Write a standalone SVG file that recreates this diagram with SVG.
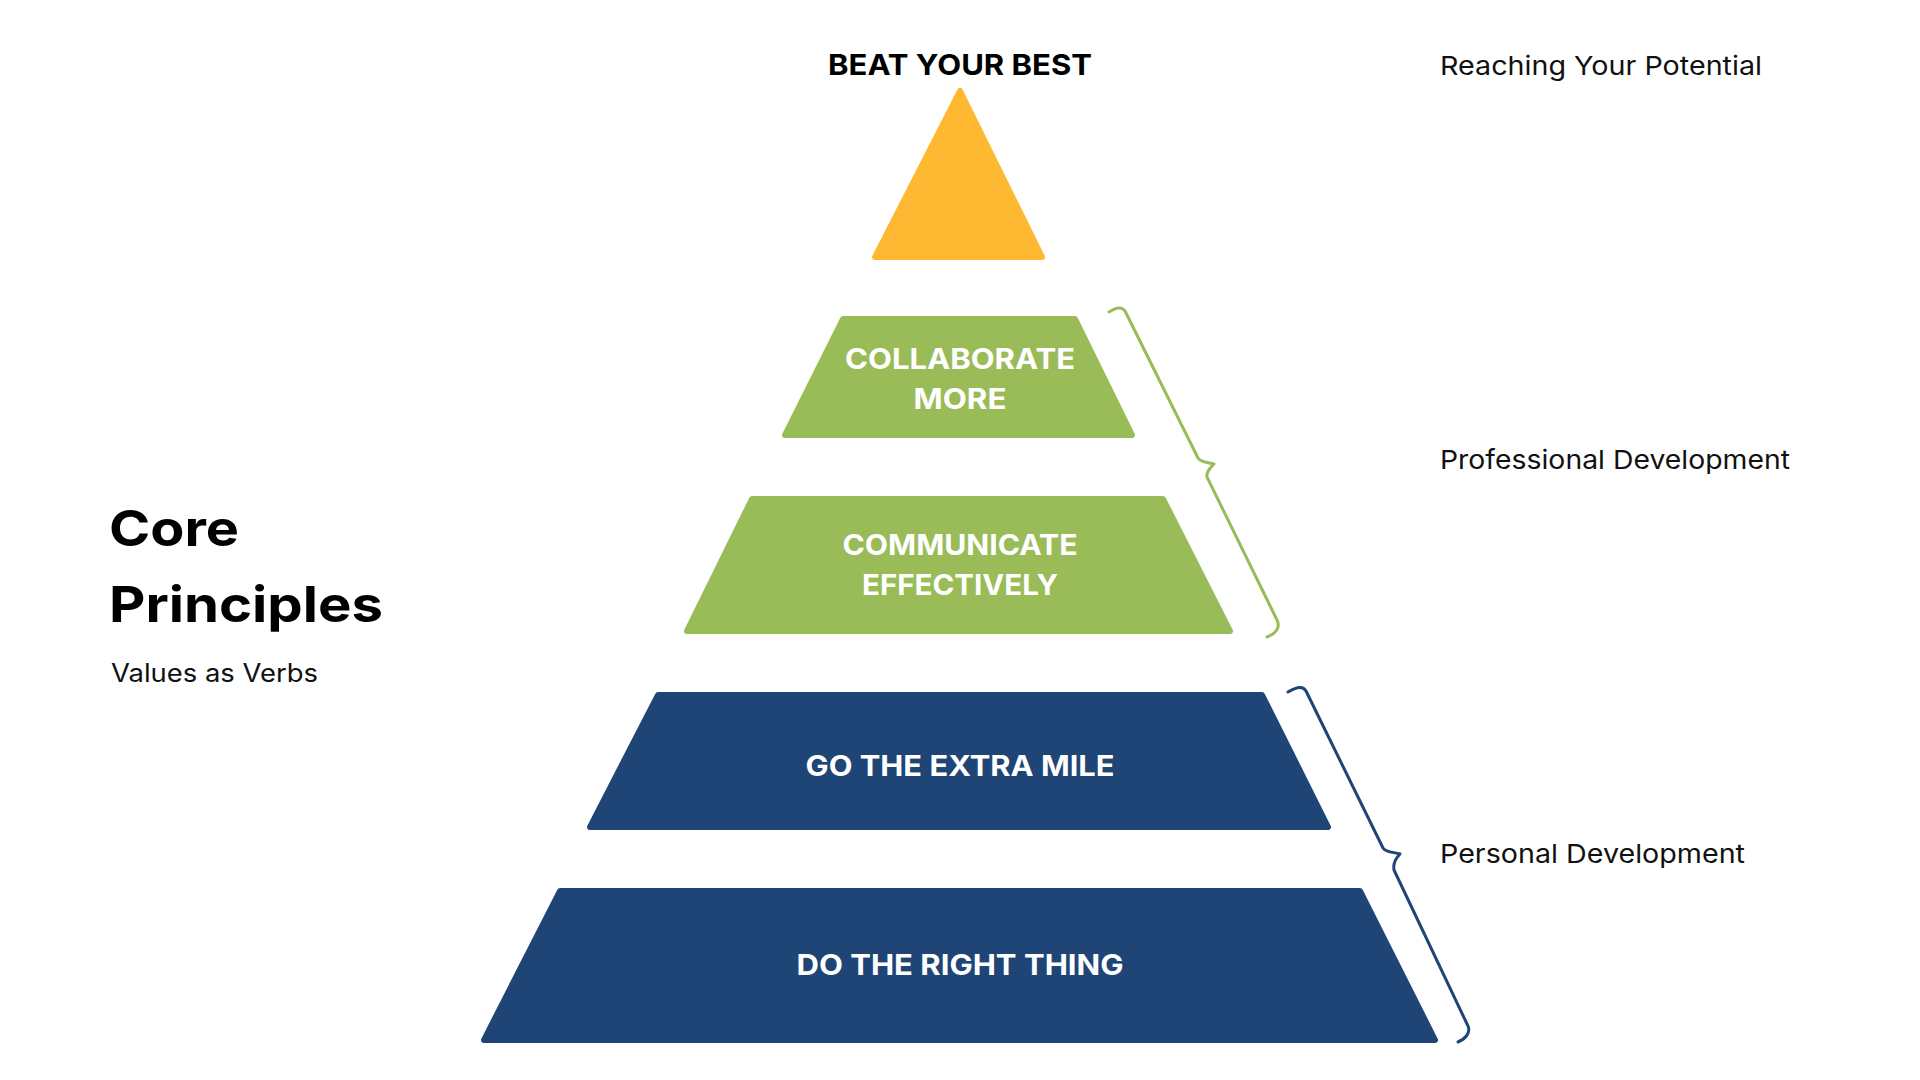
<svg xmlns="http://www.w3.org/2000/svg" width="1920" height="1080" viewBox="0 0 1920 1080">
<style>
.shape{stroke-width:6;stroke-linejoin:round}
.yellow{fill:#FEB832;stroke:#FEB832}
.green{fill:#99BC59;stroke:#99BC59}
.blue{fill:#1E4575;stroke:#1E4575}
.lbl{font-family:Inter,"Open Sans",sans-serif;font-weight:700;font-size:29px;fill:#FFFFFF;text-anchor:middle}
.side{font-family:Inter,"Open Sans",sans-serif;font-weight:400;font-size:26px;fill:#111111}
.brace{fill:none;stroke-width:3;stroke-linecap:round;stroke-linejoin:round}
</style>
<rect width="1920" height="1080" fill="#FFFFFF"/>
<g id="title">
<text x="109" y="546" font-family="Inter,'Open Sans',sans-serif" font-weight="700" font-size="50" fill="#000" textLength="130" lengthAdjust="spacingAndGlyphs">Core</text>
<text x="109" y="622" font-family="Inter,'Open Sans',sans-serif" font-weight="700" font-size="50" fill="#000" textLength="274" lengthAdjust="spacingAndGlyphs">Principles</text>
<text x="111" y="682" font-family="Inter,'Open Sans',sans-serif" font-weight="400" font-size="25" fill="#111" textLength="207" lengthAdjust="spacingAndGlyphs">Values as Verbs</text>
</g>
<g id="node-beat">
<polygon class="shape yellow" points="960,91 1042,257 875,257"/>
<text x="960" y="75" font-family="Inter,'Open Sans',sans-serif" font-weight="700" font-size="29" fill="#000" text-anchor="middle" textLength="264" lengthAdjust="spacingAndGlyphs">BEAT YOUR BEST</text>
</g>
<g id="node-collaborate">
<polygon class="shape green" points="843,319 1075,319 1132,435 785,435"/>
<text class="lbl" x="960" y="369" textLength="230" lengthAdjust="spacingAndGlyphs">COLLABORATE</text>
<text class="lbl" x="960" y="409" textLength="93" lengthAdjust="spacingAndGlyphs">MORE</text>
</g>
<g id="node-communicate">
<polygon class="shape green" points="752,499 1163,499 1230,631 687,631"/>
<text class="lbl" x="960" y="555" textLength="235" lengthAdjust="spacingAndGlyphs">COMMUNICATE</text>
<text class="lbl" x="960" y="595" textLength="196" lengthAdjust="spacingAndGlyphs">EFFECTIVELY</text>
</g>
<g id="node-extra-mile">
<polygon class="shape blue" points="658,695 1262,695 1328,827 590,827"/>
<text class="lbl" x="960" y="776" textLength="309" lengthAdjust="spacingAndGlyphs">GO THE EXTRA MILE</text>
</g>
<g id="node-right-thing">
<polygon class="shape blue" points="560,891 1360,891 1435,1040 484,1040"/>
<text class="lbl" x="960" y="975" textLength="327" lengthAdjust="spacingAndGlyphs">DO THE RIGHT THING</text>
</g>
<g id="connectors">
<path class="brace" stroke="#99BC59" d="M1109,312 C1114,309 1121,305 1125,311 L1198,458 C1201,463 1209,462 1214,464 C1210,468 1206,472 1207,477 L1277,620 C1281,628 1275,634 1267,637"/>
<path class="brace" stroke="#1E4575" d="M1288,692 C1294,689 1302,684 1306,691 L1383,848 C1386,853 1395,852 1400,854 C1396,858 1393,864 1394,870 L1468,1026 C1471,1033 1465,1039 1458,1042"/>
</g>
<g id="side-labels">
<text class="side" x="1440" y="75" textLength="322" lengthAdjust="spacingAndGlyphs">Reaching Your Potential</text>
<text class="side" x="1440" y="469" textLength="350" lengthAdjust="spacingAndGlyphs">Professional Development</text>
<text class="side" x="1440" y="863" textLength="305" lengthAdjust="spacingAndGlyphs">Personal Development</text>
</g>
</svg>
